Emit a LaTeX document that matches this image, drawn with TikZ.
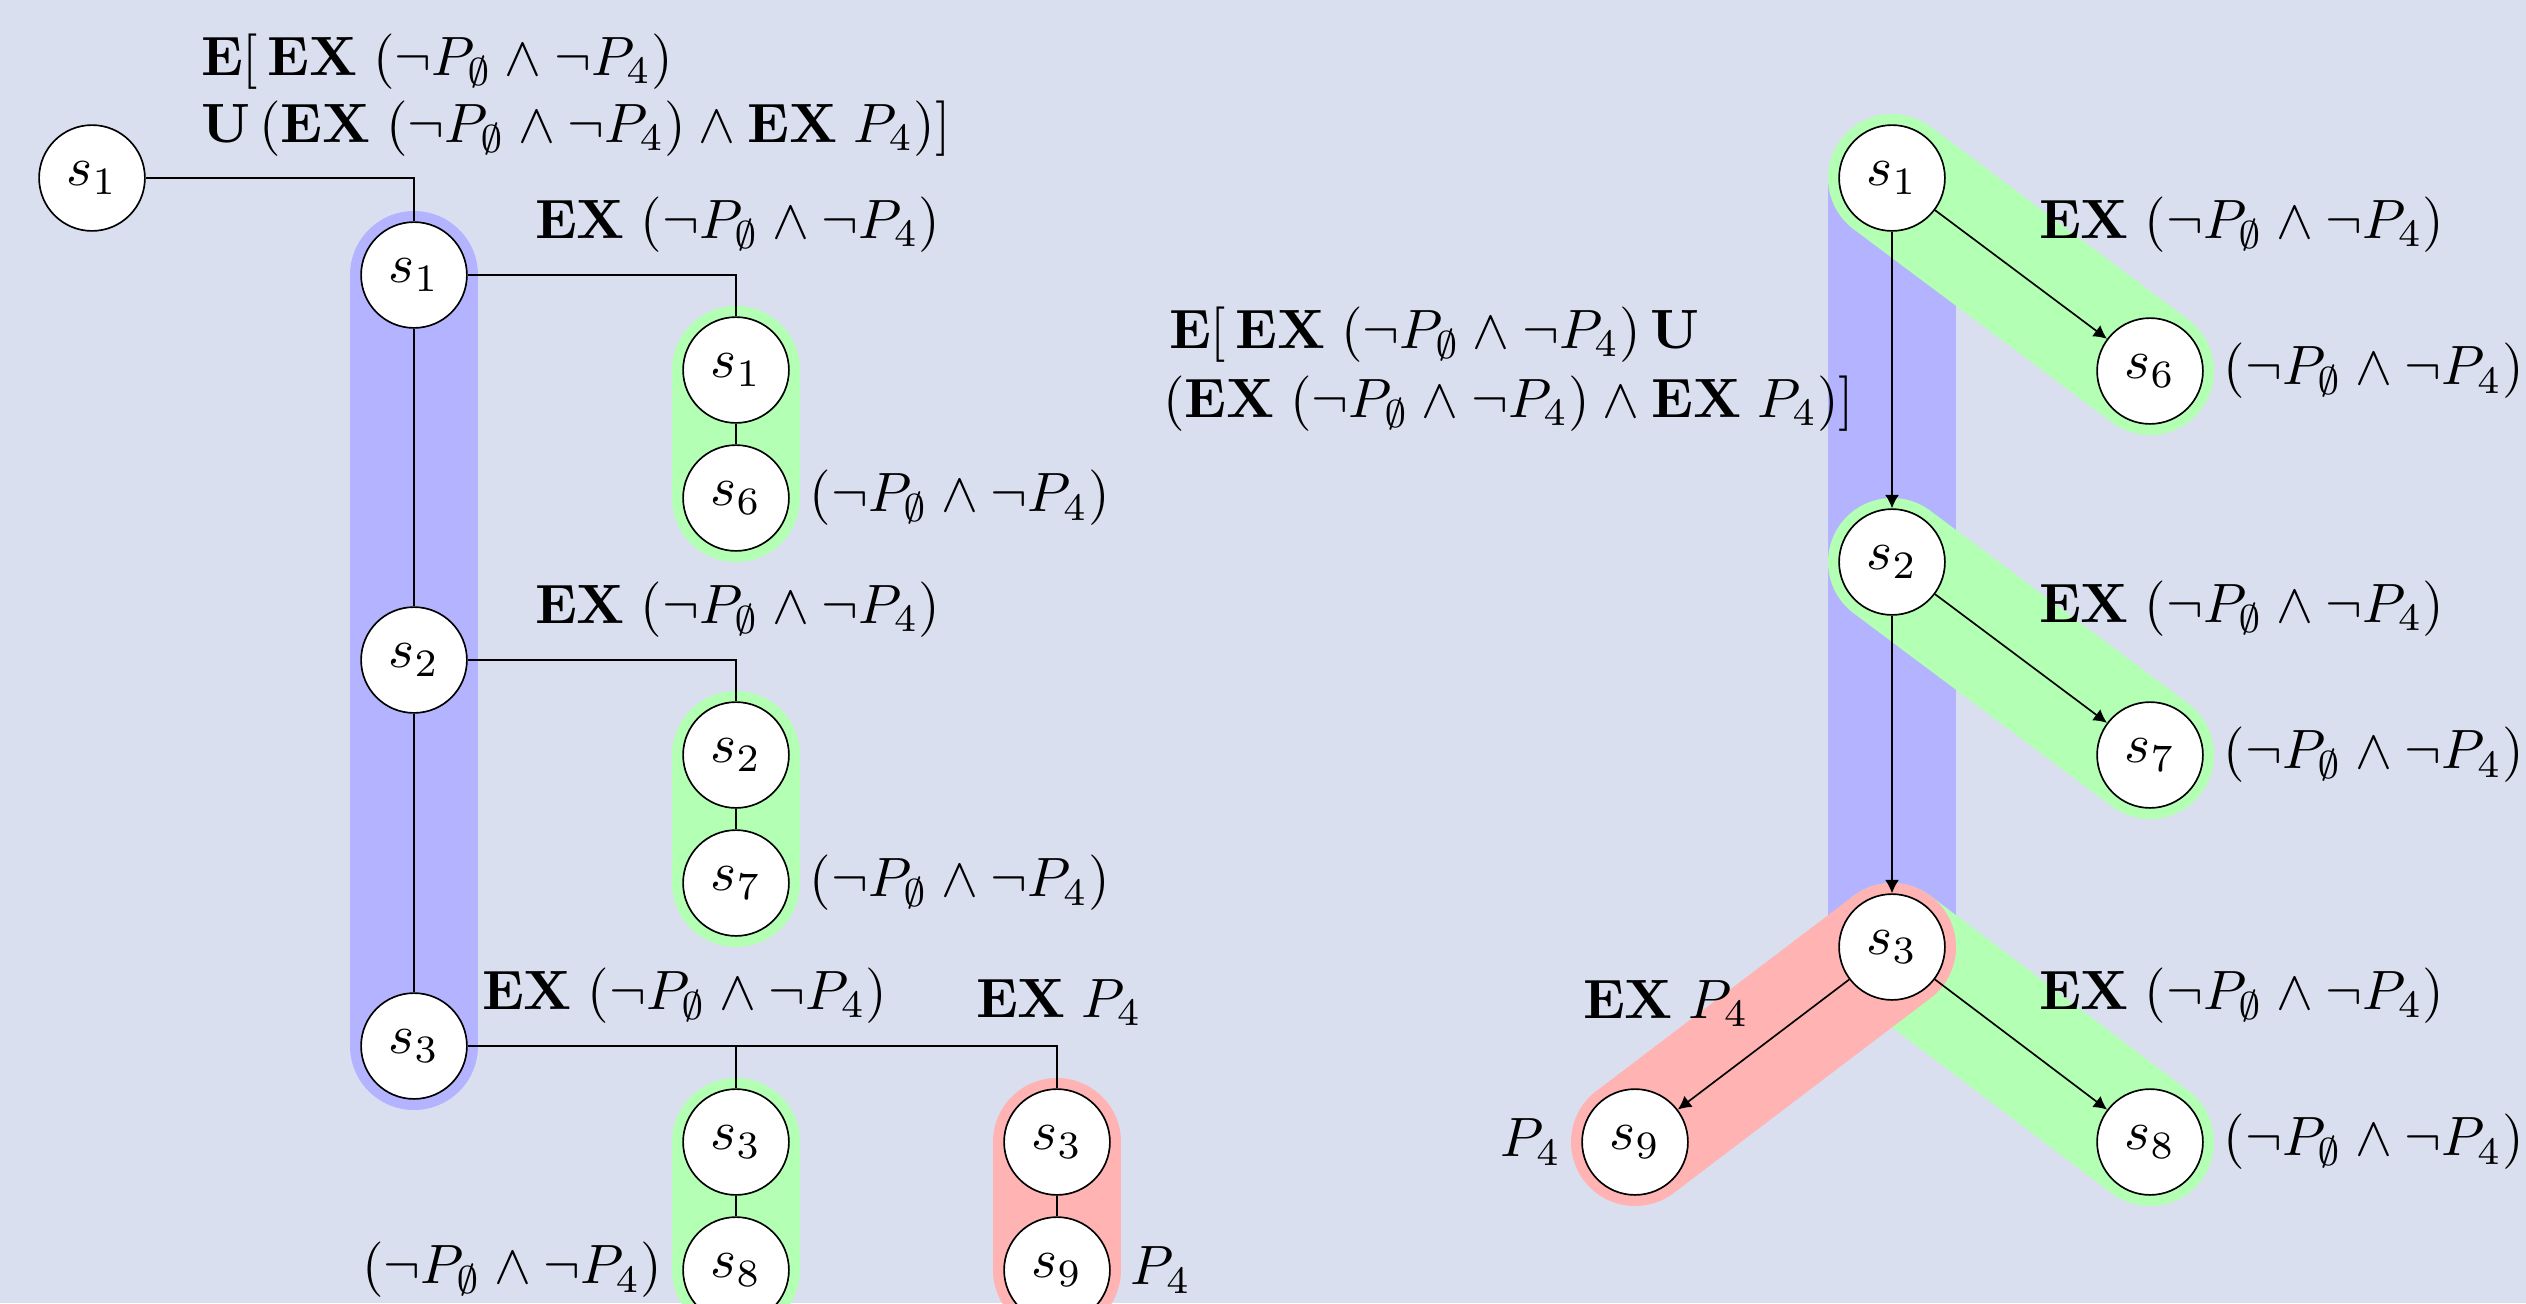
\documentclass[tikz,border=0pt]{standalone}
\usetikzlibrary{arrows.meta}
\definecolor{bgc}{RGB}{218,223,240}
\definecolor{bandblue}{RGB}{179,179,255}
\definecolor{bandgreen}{RGB}{179,255,179}
\definecolor{bandred}{RGB}{255,179,179}
\pgfdeclarelayer{bglayer}
\pgfdeclarelayer{bandlayer}
\pgfsetlayers{bglayer,bandlayer,main}
\newcommand{\nphi}{(\neg P_\emptyset \wedge \neg P_4)}
\newcommand{\exphi}{\mathbf{EX}\;(\neg P_\emptyset \wedge \neg P_4)}
\begin{document}
\begin{tikzpicture}[x=0.1805pt,y=-0.1805pt,
  st/.style={circle,draw,fill=white,minimum size=19.1pt,inner sep=0pt,line width=0.3pt},
  band/.style={line width=23.1pt,line cap=round},
  conn/.style={line width=0.3pt},
  arr/.style={line width=0.3pt,-{Latex[length=2.4pt,width=2.5pt]}},
  lab/.style={inner sep=0pt,anchor=base west},
  side/.style={inner sep=3.4pt}]
\useasboundingbox (0,0) rectangle (2526,1303);
\clip (0,0) rectangle (2526,1303);
\begin{pgfonlayer}{bglayer}
\fill[bgc] (0,0) rectangle (2526,1303);
\end{pgfonlayer}
% left tree nodes
\node[st] (A0) at (92,178) {$s_1$};
\node[st] (A1) at (414,275) {$s_1$};
\node[st] (A2) at (414,660) {$s_2$};
\node[st] (A3) at (414,1046) {$s_3$};
\node[st] (B1) at (736,370) {$s_1$};
\node[st] (B6) at (736,498) {$s_6$};
\node[st] (B2) at (736,755) {$s_2$};
\node[st] (B7) at (736,883) {$s_7$};
\node[st] (B3) at (736,1142) {$s_3$};
\node[st] (B8) at (736,1270) {$s_8$};
\node[st] (C3) at (1057,1142) {$s_3$};
\node[st] (C9) at (1057,1270) {$s_9$};
% right tree nodes
\node[st] (R1) at (1892,178) {$s_1$};
\node[st] (R6) at (2150,371) {$s_6$};
\node[st] (R2) at (1892,562) {$s_2$};
\node[st] (R7) at (2150,755) {$s_7$};
\node[st] (R3) at (1892,947) {$s_3$};
\node[st] (R8) at (2150,1142) {$s_8$};
\node[st] (R9) at (1635,1142) {$s_9$};
% bands
\begin{pgfonlayer}{bandlayer}
\draw[band,bandblue] (A1.center) -- (A3.center);
\draw[band,bandgreen] (B1.center) -- (B6.center);
\draw[band,bandgreen] (B2.center) -- (B7.center);
\draw[band,bandgreen] (B3.center) -- (B8.center);
\draw[band,bandred] (C3.center) -- (C9.center);
\draw[band,bandblue,line cap=butt] (R1.center) -- (R3.center);
\draw[band,bandgreen] (R1.center) -- (R6.center);
\draw[band,bandgreen] (R2.center) -- (R7.center);
\draw[band,bandgreen] (R3.center) -- (R8.center);
\draw[band,bandred] (R3.center) -- (R9.center);
\end{pgfonlayer}
% left connectors
\draw[conn] (A0) -| (A1);
\draw[conn] (A1) -- (A2);
\draw[conn] (A2) -- (A3);
\draw[conn] (A1) -| (B1);
\draw[conn] (A2) -| (B2);
\draw[conn] (A3) -| (B3);
\draw[conn] (A3) -| (C3);
\draw[conn] (B1) -- (B6);
\draw[conn] (B2) -- (B7);
\draw[conn] (B3) -- (B8);
\draw[conn] (C3) -- (C9);
% right arrows
\draw[arr] (R1) -- (R2);
\draw[arr] (R2) -- (R3);
\draw[arr] (R1) -- (R6);
\draw[arr] (R2) -- (R7);
\draw[arr] (R3) -- (R8);
\draw[arr] (R3) -- (R9);
% labels left
\node[lab] (tl1) at (200,75) {$\mathbf{E}[\,\exphi$};
\node[lab] (tl2) at (200,142) {$\mathbf{U}\,(\exphi\wedge\mathbf{EX}\;P_4)]$};
\node[lab] (la1) at (534,238) {$\exphi$};
\node[lab] (la2) at (534,623) {$\exphi$};
\node[lab] (la3) at (481,1009) {$\exphi$};
\node[lab] (lc3) at (975,1017) {$\mathbf{EX}\;P_4$};
\node[side,anchor=west] (lb6) at (B6.east) {$\nphi$};
\node[side,anchor=west] (lb7) at (B7.east) {$\nphi$};
\node[side,anchor=east] (lb8) at (B8.west) {$\nphi$};
\node[side,anchor=west] (lc9) at (C9.east) {$P_4$};
% labels middle
\node[lab] (ml1) at (1168,348) {$\mathbf{E}[\,\exphi\,\mathbf{U}$};
\node[lab] (ml2) at (1162,417) {$(\exphi\wedge\mathbf{EX}\;P_4)]$};
% labels right
\node[lab] (ra1) at (2038,238) {$\exphi$};
\node[lab] (ra2) at (2038,622) {$\exphi$};
\node[lab] (ra3) at (2038,1009) {$\exphi$};
\node[lab] (r9l) at (1582,1018) {$\mathbf{EX}\;P_4$};
\node[side,anchor=west] (r6l) at (R6.east) {$\nphi$};
\node[side,anchor=west] (r7l) at (R7.east) {$\nphi$};
\node[side,anchor=west] (r8l) at (R8.east) {$\nphi$};
\node[side,anchor=east] (r9p) at (R9.west) {$P_4$};
\end{tikzpicture}
\end{document}
